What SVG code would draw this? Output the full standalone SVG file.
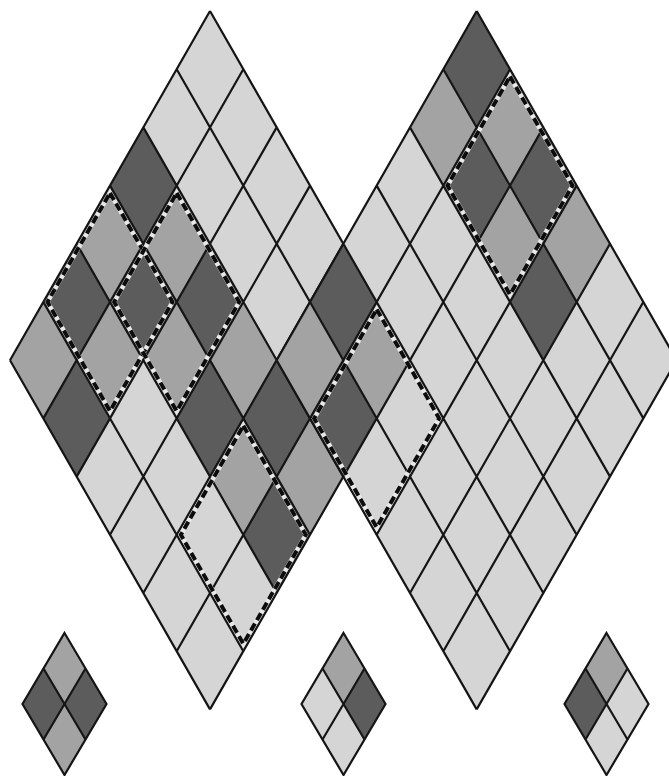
<svg xmlns="http://www.w3.org/2000/svg" width="669" height="776" viewBox="0 0 669 776">
<style>
.L{fill:#d5d5d5}
.M{fill:#a3a3a3}
.D{fill:#5c5c5c}
.grid{fill:none;stroke:#151515;stroke-width:2.2;stroke-linejoin:miter}
.dash-bg{fill:none;stroke:#e8e8e8;stroke-width:4.5}
.dash{fill:none;stroke:#0d0d0d;stroke-width:4;stroke-dasharray:8 4}
</style>
<defs>
<path id="cell" d="M0,0 L-33.333,58.2 L0,116.4 L33.333,58.2 Z"/>
<path id="outline" d="M0,0 L200,349.2 L0,698.4 L-200,349.2 Z"/>
<path id="lines" d="M0,0 l-200,349.2 M33.333,58.2 l-200,349.2 M66.667,116.4 l-200,349.2 M100,174.6 l-200,349.2 M133.333,232.8 l-200,349.2 M166.667,291 l-200,349.2 M200,349.2 l-200,349.2 M0,0 l200,349.2 M-33.333,58.2 l200,349.2 M-66.667,116.4 l200,349.2 M-100,174.6 l200,349.2 M-133.333,232.8 l200,349.2 M-166.667,291 l200,349.2 M-200,349.2 l200,349.2"/>
<path id="block" d="M0,-109 L62.5,0 L0,109 L-62.5,0 Z"/>
<path id="scell" d="M0,0 L-21,35.5 L0,71 L21,35.5 Z"/>
<path id="soutline" d="M0,0 L42,71 L0,142 L-42,71 Z"/>
<path id="slines" d="M-21,35.5 L21,106.5 M21,35.5 L-21,106.5"/>
</defs>

<g id="left-lattice" transform="translate(210,11)">
<use href="#outline" class="L"/>
<use href="#cell" class="D" x="-66.667" y="116.4"/>
<use href="#cell" class="M" x="-100" y="174.6"/>
<use href="#cell" class="M" x="-33.333" y="174.6"/>
<use href="#cell" class="D" x="-133.333" y="232.8"/>
<use href="#cell" class="D" x="-66.667" y="232.8"/>
<use href="#cell" class="D" x="0" y="232.8"/>
<use href="#cell" class="D" x="133.333" y="232.8"/>
<use href="#cell" class="M" x="-166.667" y="291"/>
<use href="#cell" class="M" x="-100" y="291"/>
<use href="#cell" class="M" x="-33.333" y="291"/>
<use href="#cell" class="M" x="33.333" y="291"/>
<use href="#cell" class="M" x="100" y="291"/>
<use href="#cell" class="M" x="166.667" y="291"/>
<use href="#cell" class="D" x="-133.333" y="349.2"/>
<use href="#cell" class="D" x="0" y="349.2"/>
<use href="#cell" class="D" x="66.667" y="349.2"/>
<use href="#cell" class="D" x="133.333" y="349.2"/>
<use href="#cell" class="M" x="33.333" y="407.4"/>
<use href="#cell" class="M" x="100" y="407.4"/>
<use href="#cell" class="D" x="66.667" y="465.6"/>
<use href="#lines" class="grid"/>
</g>

<g id="right-lattice" transform="translate(476.667,11)">
<use href="#outline" class="L"/>
<use href="#cell" class="D" x="0" y="0"/>
<use href="#cell" class="M" x="-33.333" y="58.2"/>
<use href="#cell" class="M" x="33.333" y="58.2"/>
<use href="#cell" class="D" x="0" y="116.4"/>
<use href="#cell" class="D" x="66.667" y="116.4"/>
<use href="#cell" class="M" x="33.333" y="174.6"/>
<use href="#cell" class="M" x="100" y="174.6"/>
<use href="#cell" class="D" x="-133.333" y="232.8"/>
<use href="#cell" class="D" x="66.667" y="232.8"/>
<use href="#cell" class="M" x="-166.667" y="291"/>
<use href="#cell" class="M" x="-100" y="291"/>
<use href="#cell" class="D" x="-133.333" y="349.2"/>
<use href="#lines" class="grid"/>
</g>

<g id="dashed-blocks">
<g id="block-left-a" transform="translate(110,302)"><use href="#block" class="dash-bg"/><use href="#block" class="dash"/></g>
<g id="block-left-b" transform="translate(176.667,302)"><use href="#block" class="dash-bg"/><use href="#block" class="dash"/></g>
<g id="block-left-c" transform="translate(243.333,534.8)"><use href="#block" class="dash-bg"/><use href="#block" class="dash"/></g>
<g id="block-right-a" transform="translate(510,185.6)"><use href="#block" class="dash-bg"/><use href="#block" class="dash"/></g>
<g id="block-right-b" transform="translate(376.667,418.4)"><use href="#block" class="dash-bg"/><use href="#block" class="dash"/></g>
</g>

<g id="small-1" transform="translate(64.5,633)">
<use href="#scell" class="M" x="0" y="0"/>
<use href="#scell" class="D" x="-21" y="35.5"/>
<use href="#scell" class="D" x="21" y="35.5"/>
<use href="#scell" class="M" x="0" y="71"/>
<use href="#slines" class="grid"/>
<use href="#soutline" class="grid"/>
</g>

<g id="small-2" transform="translate(343.5,633)">
<use href="#scell" class="M" x="0" y="0"/>
<use href="#scell" class="L" x="-21" y="35.5"/>
<use href="#scell" class="D" x="21" y="35.5"/>
<use href="#scell" class="L" x="0" y="71"/>
<use href="#slines" class="grid"/>
<use href="#soutline" class="grid"/>
</g>

<g id="small-3" transform="translate(606.5,633)">
<use href="#scell" class="M" x="0" y="0"/>
<use href="#scell" class="D" x="-21" y="35.5"/>
<use href="#scell" class="L" x="21" y="35.5"/>
<use href="#scell" class="L" x="0" y="71"/>
<use href="#slines" class="grid"/>
<use href="#soutline" class="grid"/>
</g>
</svg>
